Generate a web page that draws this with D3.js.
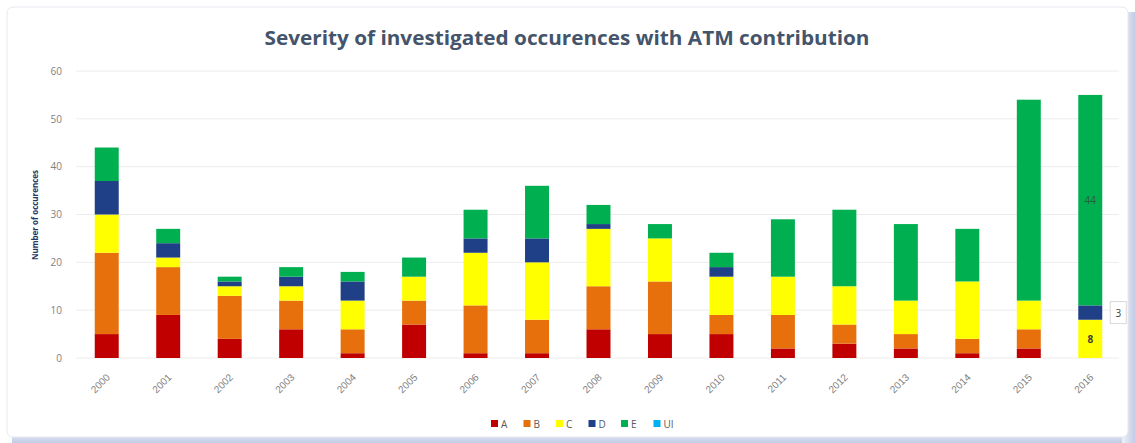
<!DOCTYPE html>
<html><head><meta charset="utf-8">
<script src="https://cdn.jsdelivr.net/npm/d3@7"></script>
<style>body{margin:0;background:#fff;}svg{display:block;font-family:"Open Sans",sans-serif;}</style>
</head><body><svg id="c" width="1135" height="443"></svg>
<script>
const years = ["2000","2001","2002","2003","2004","2005","2006","2007","2008","2009","2010","2011","2012","2013","2014","2015","2016"];
const seriesNames = ["A","B","C","D","E","UI"];
const seriesColors = ["#c00000","#e8700c","#ffff00","#1f3f86","#00b050","#00b0f0"];
const A  = [5,9,4,6,1,7,1,1,6,5,5,2,3,2,1,2,0];
const B  = [17,10,9,6,5,5,10,7,9,11,4,7,4,3,3,4,0];
const C  = [8,2,2,3,6,5,11,12,12,9,8,8,8,7,12,6,8];
const D  = [7,3,1,2,4,0,3,5,1,0,2,0,0,0,0,0,3];
const E  = [7,3,1,2,2,4,6,11,4,3,3,12,16,16,11,42,44];
const UI = [0,0,0,0,0,0,0,0,0,0,0,0,0,0,0,0,0];
const yTicks = [0,10,20,30,40,50,60];
const title = "Severity of investigated occurences with ATM contribution";
const yTitle = "Number of occurences";

const svg = d3.select("#c");
const defs = svg.append("defs");
const gb = defs.append("linearGradient").attr("id","sb").attr("x1",0).attr("x2",0).attr("y1",0).attr("y2",1);
gb.append("stop").attr("offset",0).attr("stop-color","#eef1f8");
gb.append("stop").attr("offset",1).attr("stop-color","#c3cce6");
const gr = defs.append("linearGradient").attr("id","sr").attr("x1",0).attr("x2",1).attr("y1",0).attr("y2",0);
gr.append("stop").attr("offset",0).attr("stop-color","#eef1f8");
gr.append("stop").attr("offset",1).attr("stop-color","#c3cce6");
// shadow + frame
svg.append("rect").attr("x",12).attr("y",430).attr("width",1123).attr("height",13).attr("fill","url(#sb)");
svg.append("rect").attr("x",1122).attr("y",12).attr("width",13).attr("height",431).attr("fill","url(#sr)");
svg.append("rect").attr("x",7).attr("y",7).attr("width",1121).attr("height",430).attr("rx",6)
  .attr("fill","#fff").attr("stroke","#e6e9ef").attr("stroke-width",1);

const data = years.map((y,i)=>({year:y,A:A[i],B:B[i],C:C[i],D:D[i],E:E[i],UI:UI[i]}));
const stack = d3.stack().keys(seriesNames)(data);

const x = d3.scaleBand().domain(years).range([76,1121]).paddingInner(0.61).paddingOuter(0.305);
const y = d3.scaleLinear().domain([0,60]).range([358,71]);
const color = d3.scaleOrdinal().domain(seriesNames).range(seriesColors);

// grid
svg.append("g").selectAll("line").data(yTicks).join("line")
  .attr("x1",76).attr("x2",1119).attr("y1",d=>y(d)).attr("y2",d=>y(d))
  .attr("stroke","#ececec").attr("stroke-width",1);

// y axis labels
const ya = svg.append("g").attr("transform","translate(66,0)")
  .call(d3.axisLeft(y).tickValues(yTicks).tickSize(0).tickPadding(4));
ya.select(".domain").remove();
ya.selectAll("text").attr("font-size",10).attr("fill","#7f7f7f").attr("font-family","Open Sans, sans-serif");

// bars
svg.append("g").selectAll("g").data(stack).join("g").attr("fill",d=>color(d.key))
  .selectAll("rect").data(d=>d).join("rect")
  .attr("x",d=>x(d.data.year)).attr("width",x.bandwidth())
  .attr("y",d=>y(d[1])).attr("height",d=>y(d[0])-y(d[1]));

// x axis labels
const xa = svg.append("g").attr("transform","translate(0,360)")
  .call(d3.axisBottom(x).tickSize(0).tickPadding(0));
xa.select(".domain").remove();
xa.selectAll("text").attr("font-size",10).attr("fill","#7f7f7f")
  .attr("text-anchor","end").attr("dy",0)
  .attr("transform","translate(4,18) rotate(-45)");

// data labels for 2016
const last = years.length-1;
const cx = x(years[last]) + x.bandwidth()/2;
const sE = stack[4][last], sC = stack[2][last], sD = stack[3][last];
svg.append("text").attr("x",cx).attr("y",y((sE[0]+sE[1])/2)+4).attr("text-anchor","middle")
  .attr("font-size",10).attr("fill","#2f5a3a").text(E[last]);
svg.append("text").attr("x",cx).attr("y",y((sC[0]+sC[1])/2)+4).attr("text-anchor","middle")
  .attr("font-size",10).attr("font-weight","bold").attr("fill","#404040").text(C[last]);
const dy = y((sD[0]+sD[1])/2);
svg.append("rect").attr("x",cx+20).attr("y",dy-11).attr("width",16).attr("height",22)
  .attr("fill","#fff").attr("stroke","#d9d9d9");
svg.append("text").attr("x",cx+28).attr("y",dy+4).attr("text-anchor","middle")
  .attr("font-size",10).attr("fill","#404040").text(D[last]);

// title
svg.append("text").attr("x",567).attr("y",45).attr("text-anchor","middle")
  .attr("font-size",20).attr("font-weight","bold").attr("fill","#44546a")
  .attr("textLength",605).attr("lengthAdjust","spacingAndGlyphs").text(title);

// y title
svg.append("text").attr("transform","translate(38,215) rotate(-90)").attr("text-anchor","middle")
  .attr("font-size",8).attr("font-weight","bold").attr("fill","#1f3864").text(yTitle);

// legend
const lg = svg.append("g").attr("transform","translate(494,424)");
const item = lg.selectAll("g").data(seriesNames).join("g")
  .attr("transform",(d,i)=>`translate(${i*32.5},0)`);
item.append("rect").attr("x",-3).attr("y",-4).attr("width",7).attr("height",7).attr("fill",d=>color(d));
item.append("text").attr("x",7).attr("y",3.5).attr("font-size",10).attr("fill","#595959").text(d=>d);
</script></body></html>
